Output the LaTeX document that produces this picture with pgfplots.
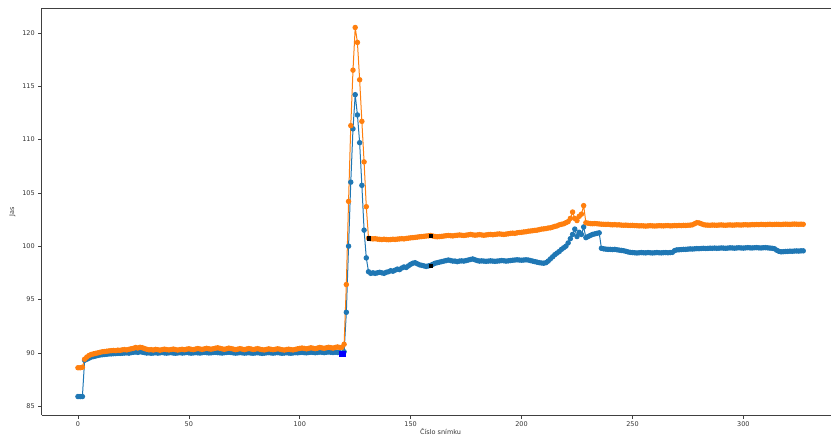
\documentclass[border=0pt]{standalone}
\usepackage{pgfplots}
\pgfplotsset{compat=1.18}
\usepackage{pgfplotstable}
\usepackage{fontspec}
\setmainfont{DejaVu Sans}
\definecolor{mblue}{HTML}{1F77B4}
\definecolor{morange}{HTML}{FF7F0E}
\pgfplotstableread{
x b o
0 85.9 88.6
1 85.9 88.6
2 85.9 88.65
3 89.3 89.4
4 89.4 89.6
5 89.5 89.75
6 89.6 89.85
7 89.65 89.9
8 89.7 89.95
9 89.75 90.0
10 89.8 90.05
11 89.82 90.1
12 89.85 90.12
13 89.87 90.15
14 89.9 90.18
15 89.9 90.2
16 89.92 90.22
17 89.93 90.2
18 89.95 90.25
19 89.95 90.23
20 89.96 90.28
21 89.98 90.3
22 90.0 90.27
23 89.97 90.33
24 90.02 90.38
25 90.05 90.42
26 90.08 90.5
27 90.04 90.45
28 90.1 90.52
29 90.06 90.48
30 90.02 90.4
31 89.98 90.33
32 90.0 90.28
33 89.96 90.3
34 89.98 90.26
35 90.01 90.32
36 89.97 90.29
37 90.0 90.25
38 90.03 90.3
39 89.99 90.34
40 89.97 90.3
41 90.0 90.27
42 90.02 90.31
43 89.98 90.35
44 89.96 90.3
45 89.99 90.26
46 90.01 90.3
47 89.98 90.33
48 90.0 90.29
49 90.03 90.34
50 90.0 90.38
51 89.97 90.33
52 89.99 90.3
53 90.02 90.35
54 90.0 90.4
55 89.98 90.36
56 90.01 90.32
57 90.04 90.37
58 90.02 90.42
59 89.99 90.38
60 90.0 90.34
61 90.03 90.38
62 90.05 90.43
63 90.02 90.47
64 90.0 90.42
65 89.98 90.37
66 90.01 90.33
67 90.03 90.38
68 90.06 90.44
69 90.03 90.4
70 90.0 90.35
71 89.97 90.3
72 89.99 90.34
73 90.02 90.39
74 90.0 90.35
75 89.97 90.3
76 89.99 90.35
77 90.01 90.4
78 89.98 90.36
79 89.96 90.31
80 89.99 90.35
81 90.01 90.39
82 89.98 90.34
83 89.95 90.3
84 89.97 90.27
85 90.0 90.32
86 90.02 90.37
87 89.99 90.33
88 89.97 90.29
89 90.0 90.33
90 90.02 90.38
91 89.99 90.34
92 89.96 90.29
93 89.98 90.26
94 90.01 90.3
95 89.98 90.34
96 89.96 90.3
97 89.99 90.27
98 90.02 90.32
99 90.0 90.37
100 90.03 90.41
101 90.05 90.45
102 90.02 90.41
103 90.0 90.37
104 90.03 90.42
105 90.06 90.47
106 90.04 90.43
107 90.01 90.39
108 90.04 90.44
109 90.07 90.5
110 90.05 90.46
111 90.02 90.42
112 90.05 90.47
113 90.08 90.52
114 90.05 90.48
115 90.03 90.44
116 90.06 90.5
117 90.04 90.55
118 90.02 90.5
119 89.95 90.52
120 90.1 90.8
121 93.8 96.4
122 100.0 104.2
123 106.0 111.3
124 111.0 116.5
125 114.2 120.5
126 112.3 119.1
127 109.7 115.6
128 105.7 111.7
129 101.5 107.9
130 98.9 103.7
131 97.6 100.75
132 97.45 100.7
133 97.5 100.68
134 97.45 100.7
135 97.5 100.66
136 97.55 100.64
137 97.5 100.62
138 97.45 100.65
139 97.55 100.62
140 97.6 100.6
141 97.7 100.62
142 97.65 100.65
143 97.75 100.63
144 97.85 100.66
145 97.8 100.68
146 97.95 100.7
147 98.05 100.68
148 98.0 100.72
149 98.15 100.75
150 98.3 100.78
151 98.4 100.8
152 98.45 100.82
153 98.35 100.85
154 98.25 100.88
155 98.2 100.9
156 98.15 100.92
157 98.1 100.95
158 98.15 100.97
159 98.2 101.0
160 98.3 100.95
161 98.4 100.9
162 98.45 100.88
163 98.5 100.9
164 98.55 100.92
165 98.6 100.95
166 98.65 100.98
167 98.7 101.0
168 98.65 100.98
169 98.6 100.96
170 98.6 101.0
171 98.55 101.02
172 98.6 101.05
173 98.62 101.02
174 98.6 101.0
175 98.65 101.03
176 98.7 101.06
177 98.75 101.1
178 98.8 101.06
179 98.72 101.03
180 98.65 101.05
181 98.6 101.08
182 98.62 101.05
183 98.6 101.02
184 98.58 101.05
185 98.6 101.08
186 98.62 101.1
187 98.6 101.07
188 98.58 101.1
189 98.6 101.13
190 98.62 101.15
191 98.65 101.12
192 98.63 101.1
193 98.6 101.13
194 98.62 101.16
195 98.65 101.2
196 98.68 101.22
197 98.7 101.2
198 98.72 101.25
199 98.7 101.28
200 98.68 101.3
201 98.7 101.33
202 98.72 101.35
203 98.7 101.4
204 98.65 101.42
205 98.6 101.45
206 98.55 101.48
207 98.5 101.5
208 98.45 101.55
209 98.42 101.6
210 98.4 101.62
211 98.45 101.65
212 98.6 101.7
213 98.8 101.72
214 99.0 101.78
215 99.2 101.85
216 99.35 101.9
217 99.5 102.0
218 99.7 102.05
219 99.85 102.1
220 100.0 102.2
221 100.3 102.3
222 100.7 102.6
223 101.1 103.2
224 101.6 102.6
225 100.9 102.4
226 101.3 102.8
227 101.1 103.0
228 101.8 103.8
229 100.8 102.2
230 100.9 102.15
231 101.0 102.12
232 101.1 102.1
233 101.15 102.12
234 101.2 102.1
235 101.25 102.08
236 99.8 102.06
237 99.75 102.05
238 99.72 102.04
239 99.7 102.05
240 99.7 102.02
241 99.68 102.0
242 99.7 102.02
243 99.66 101.99
244 99.63 102.0
245 99.6 101.97
246 99.57 101.96
247 99.52 101.97
248 99.46 101.95
249 99.42 101.94
250 99.4 101.95
251 99.38 101.93
252 99.36 101.92
253 99.38 101.9
254 99.4 101.91
255 99.38 101.9
256 99.37 101.88
257 99.4 101.9
258 99.38 101.92
259 99.36 101.9
260 99.38 101.89
261 99.4 101.9
262 99.38 101.92
263 99.37 101.91
264 99.39 101.9
265 99.4 101.92
266 99.38 101.93
267 99.4 101.9
268 99.42 101.91
269 99.58 101.93
270 99.65 101.92
271 99.66 101.94
272 99.68 101.93
273 99.7 101.95
274 99.7 101.94
275 99.72 101.96
276 99.74 101.97
277 99.73 102.0
278 99.75 102.1
279 99.77 102.2
280 99.76 102.18
281 99.78 102.1
282 99.8 102.02
283 99.78 101.98
284 99.79 101.97
285 99.81 101.96
286 99.8 101.98
287 99.82 101.97
288 99.8 101.96
289 99.81 101.98
290 99.83 101.99
291 99.82 101.97
292 99.8 101.96
293 99.82 101.98
294 99.84 101.99
295 99.83 101.97
296 99.81 101.98
297 99.83 102.0
298 99.85 101.99
299 99.83 101.98
300 99.82 102.0
301 99.84 102.01
302 99.86 101.99
303 99.84 102.0
304 99.83 102.02
305 99.85 102.01
306 99.86 102.03
307 99.84 102.02
308 99.83 102.04
309 99.85 102.03
310 99.86 102.02
311 99.84 102.04
312 99.82 102.05
313 99.8 102.03
314 99.76 102.04
315 99.62 102.05
316 99.52 102.04
317 99.47 102.03
318 99.48 102.05
319 99.5 102.06
320 99.51 102.05
321 99.53 102.04
322 99.52 102.06
323 99.54 102.07
324 99.55 102.06
325 99.54 102.05
326 99.56 102.06
327 99.56 102.05
}\data
\begin{document}
\begin{tikzpicture}
\begin{axis}[name=ax, scale only axis, width=797.8pt, height=406.7pt,
  xmin=-16.35, xmax=343.35, ymin=84.17, ymax=122.3,
  axis x line*=bottom, axis y line*=left,
  xtick={0,50,...,300}, ytick={85,90,...,120},
  tick align=outside,
  major tick length=3.5pt,
  axis line style={black!75, line width=0.8pt},
  every tick/.style={black!75, line width=0.6pt},
  tick label style={font=\fontsize{6.5}{8}\selectfont, text=black!80},
  label style={font=\fontsize{6.5}{8}\selectfont, text=black!80},
  xlabel style={yshift=5pt},
  /pgf/number format/assume math mode=true,
  xlabel={Číslo snímku}, ylabel={Jas},
]
\addplot[mblue, line width=1pt, mark=*, mark size=2.2pt] table[x=x,y=b]{\data};
\addplot[morange, line width=1pt, mark=*, mark size=2.2pt] table[x=x,y=o]{\data};
\addplot[only marks, black, mark=square*, mark size=1.6pt] coordinates {(131,100.75) (159,101.0) (159,98.2)};
\addplot[only marks, blue, mark=square*, mark size=2.8pt] coordinates {(119,89.9)};
\end{axis}
\draw[black!75, line width=0.8pt] (ax.north west) -- (ax.north east);
\pgfresetboundingbox
\path[use as bounding box] ([xshift=-41.7pt,yshift=-22pt]ax.south west) rectangle ([xshift=789.3pt,yshift=8.3pt]ax.north west);
\end{tikzpicture}
\end{document}
